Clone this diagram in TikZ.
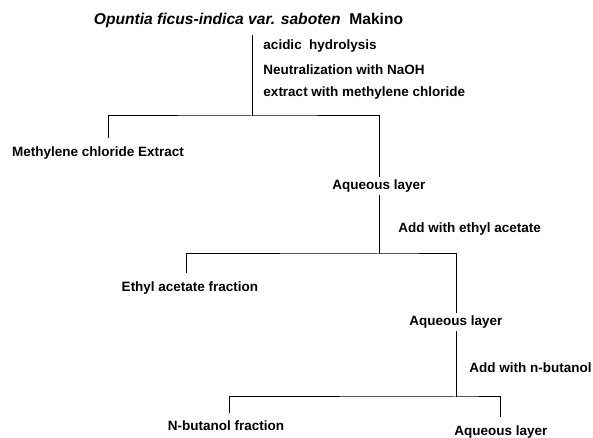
\documentclass[tikz,border=0pt]{standalone}
\usepackage{fontspec}
\setmainfont{Liberation Sans}

\begin{document}
\begin{tikzpicture}[line width=0.7pt,
    every node/.style={font=\fontsize{9.6}{11}\selectfont\bfseries},
    steptext/.style={anchor=west, inner sep=0pt},
    layer/.style={inner xsep=1pt, inner ysep=1.5pt},
    fraction/.style={inner xsep=0pt, inner ysep=5.5pt}]
        \useasboundingbox (0,0) rectangle (14.825,10.95);
        \node[inner ysep=5pt, font=\fontsize{11.1}{13}\selectfont\bfseries]
        (plant) at (6.2125,10.45)
        {\textit{Opuntia ficus-indica var. saboten}\ \ Makino};
        % Split points
        \coordinate (s1) at (6.3,8.05);
        \coordinate (s2) at (9.475,4.6);
        \coordinate (s3) at (11.4,1.025);
        % Treatments
        \node[steptext] (hyd) at (6.575,9.8) {acidic\ \ hydrolysis};
        \node[steptext] (neu) at (6.575,9.2) {Neutralization with NaOH};
        \node[steptext] (mcl) at (6.575,8.625) {extract with methylene chloride};
        \node[steptext] (eta) at (9.95,5.225) {Add with ethyl acetate};
        \node[steptext] (but) at (11.725,1.75) {Add with n-butanol};
        % Fractions
        \node[fraction] (mce) at (2.45,7.125) {Methylene chloride Extract};
        \node[layer] (aq1) at (9.475,6.3) {Aqueous layer};
        \node[fraction] (eaf) at (4.75,3.75) {Ethyl acetate fraction};
        \node[layer] (aq2) at (11.4,2.9) {Aqueous layer};
        \node[fraction] (nbf) at (5.65,0.3) {N-butanol fraction};
        \node[fraction] (aq3) at (12.525,0.15) {Aqueous layer};
        % Lines
        \draw (plant.south -| s1) -- (s1);
        \draw ([xshift=0.25cm]mce.north) |- (s1) -| (aq1.north);
        \draw (aq1.south) -- (s2);
        \draw ([xshift=-0.1cm]eaf.north) |- (s2) -| (aq2.north);
        \draw (aq2.south) -- (s3);
        \draw ([xshift=0.075cm]nbf.north) |- (s3) -| ([xshift=-0.025cm]aq3.north);
      \end{tikzpicture}
\end{document}
